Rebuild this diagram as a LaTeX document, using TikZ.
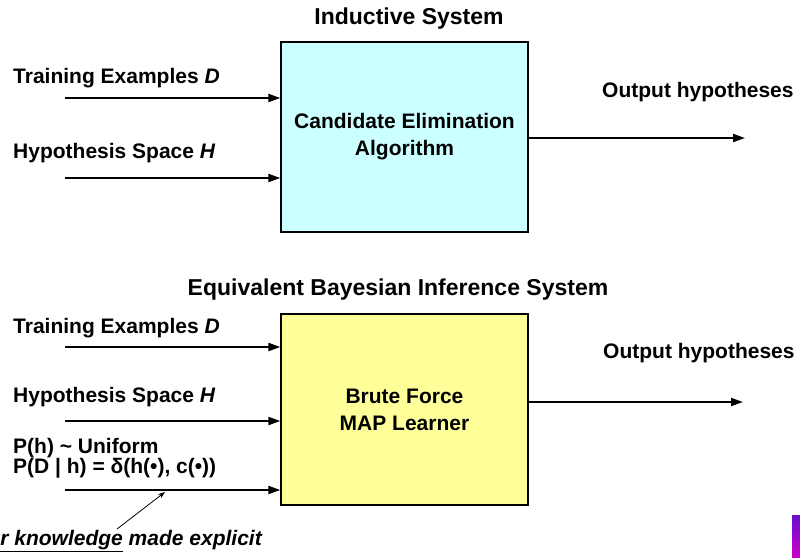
\documentclass[tikz,border=0pt]{standalone}
\usepackage{fontspec}
\setmainfont{Liberation Sans}
\usetikzlibrary{arrows.meta}
\definecolor{cyanfill}{RGB}{204,255,255}
\definecolor{yellowfill}{RGB}{255,255,153}
\definecolor{barTop}{RGB}{104,16,204}
\definecolor{barBottom}{RGB}{200,0,200}
\begin{document}
\begin{tikzpicture}[x=1pt,y=-1pt,
  lbl/.style={font=\fontsize{21}{25}\selectfont\bfseries, inner sep=0pt, anchor=west},
  ttl/.style={font=\fontsize{23}{27}\selectfont\bfseries, inner sep=0pt},
  sysbox/.style={draw=black, line width=1.3pt, inner sep=0pt,
    minimum width=247pt, font=\fontsize{21}{27}\selectfont\bfseries, align=center},
  feed/.style={line width=2pt, -{Triangle[length=12pt,width=8pt]}},
  pointer/.style={line width=0.8pt, -{Stealth[length=7pt,width=5pt]}}]
\useasboundingbox (0,0) rectangle (800,557);
\clip (0,0) rectangle (800,557);

% ---------- upper system ----------
\node[ttl] (indTitle) at (409,19) {Inductive System};
\node[sysbox, fill=cyanfill, minimum height=190pt] (cea) at (404.5,137)
  {Candidate Elimination\\Algorithm};

\node[lbl] (tdTop) at (13,78) {Training Examples \textit{D}};
\node[lbl] (hsTop) at (13,153.5) {Hypothesis Space \textit{H}};
\node[lbl] (outTop) at (602,92) {Output hypotheses};

\coordinate (tdTopIn) at (65,98);
\coordinate (hsTopIn) at (65,178);
\coordinate (outTopEnd) at (745,138);
\draw[feed] (tdTopIn) -- (tdTopIn -| cea.west);
\draw[feed] (hsTopIn) -- (hsTopIn -| cea.west);
\draw[feed] (outTopEnd -| cea.east) -- (outTopEnd);

% ---------- lower system ----------
\node[ttl] (bayTitle) at (398,290) {Equivalent Bayesian Inference System};
\node[sysbox, fill=yellowfill, minimum height=191pt] (map) at (404.5,409.5)
  {Brute Force\\MAP Learner};

\node[lbl] (tdBot) at (13,328) {Training Examples \textit{D}};
\node[lbl] (hsBot) at (13,397) {Hypothesis Space \textit{H}};
\node[lbl] (prior) at (13,448) {P(h) \textasciitilde{} Uniform};
\node[lbl] (lik) at (13,468) {P(D | h) = δ(h(•), c(•))};
\node[lbl] (outBot) at (603,353) {Output hypotheses};

\coordinate (tdBotIn) at (65,347);
\coordinate (hsBotIn) at (65,421);
\coordinate (priorIn) at (65,490);
\coordinate (outBotEnd) at (743,402);
\draw[feed] (tdBotIn) -- (tdBotIn -| map.west);
\draw[feed] (hsBotIn) -- (hsBotIn -| map.west);
\draw[feed] (priorIn) -- (priorIn -| map.west);
\draw[feed] (outBotEnd -| map.east) -- (outBotEnd);

% ---------- annotation ----------
\node[lbl, anchor=east, font=\fontsize{21}{25}\selectfont\bfseries\itshape] (note) at (262,541)
  {\underline{Prior knowledge} made explicit};
\coordinate (noteTail) at (117,529);
\coordinate (noteTip) at (165,492);
\draw[pointer] (noteTail) -- (noteTip);

% ---------- corner bar ----------
\shade[top color=barTop, bottom color=barBottom] (792,515) rectangle (800,557);
\end{tikzpicture}
\end{document}
